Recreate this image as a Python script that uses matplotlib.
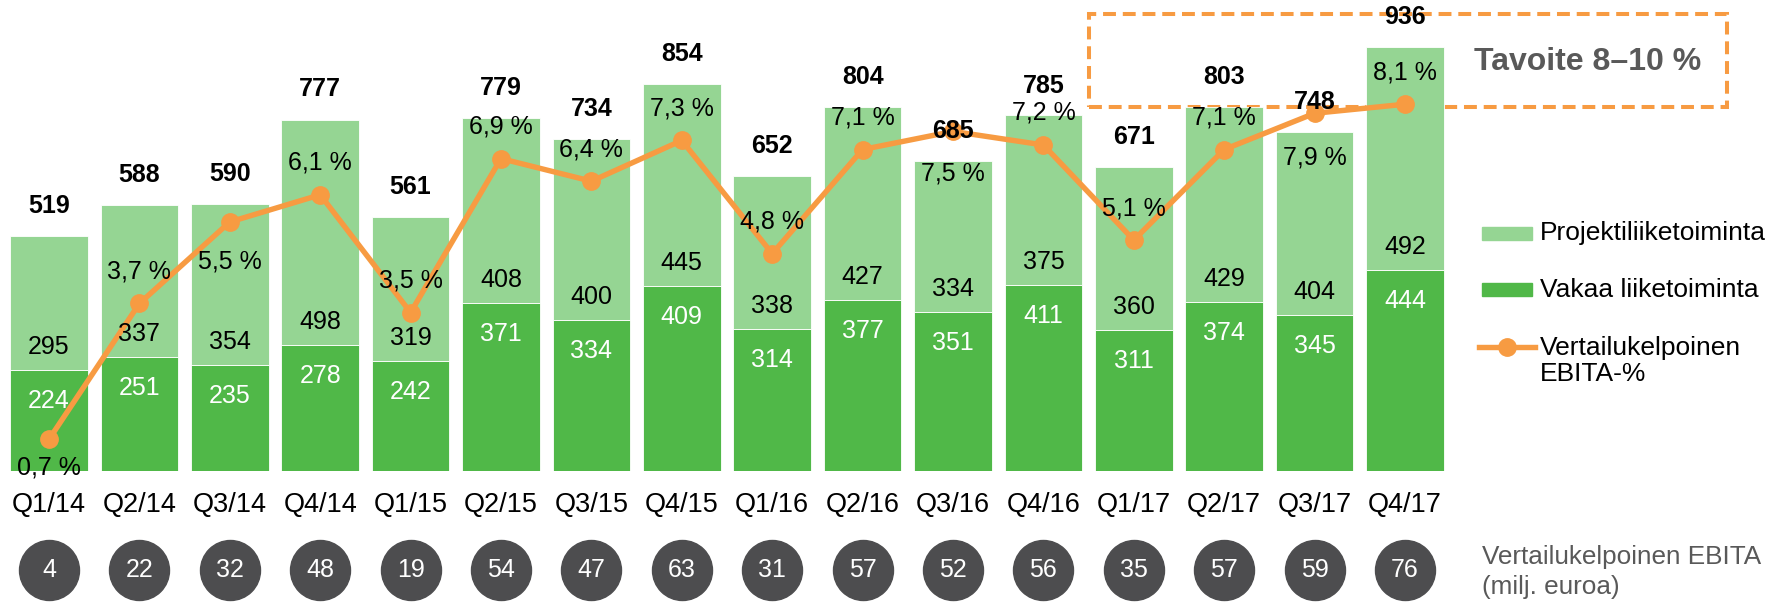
"""Quarterly order intake with comparable EBITA margin."""

import matplotlib

matplotlib.use("Agg")

import numpy as np
from matplotlib import pyplot as plt
from matplotlib import transforms
from matplotlib.lines import Line2D
from matplotlib.patches import Rectangle

quarters = [
    "Q1/14", "Q2/14", "Q3/14", "Q4/14", "Q1/15", "Q2/15", "Q3/15", "Q4/15",
    "Q1/16", "Q2/16", "Q3/16", "Q4/16", "Q1/17", "Q2/17", "Q3/17", "Q4/17",
]
vakaa = [224, 251, 235, 278, 242, 371, 334, 409, 314, 377, 351, 411, 311, 374, 345, 444]
projekti = [295, 337, 354, 498, 319, 408, 400, 445, 338, 427, 334, 375, 360, 429, 404, 492]
totals = [519, 588, 590, 777, 561, 779, 734, 854, 652, 804, 685, 785, 671, 803, 748, 936]
ebita_pct = [0.7, 3.7, 5.5, 6.1, 3.5, 6.9, 6.4, 7.3, 4.8, 7.1, 7.5, 7.2, 5.1, 7.1, 7.9, 8.1]
ebita_meur = [4, 22, 32, 48, 19, 54, 47, 63, 31, 57, 52, 56, 35, 57, 59, 76]

# label placement for the margin line (pixels, + above / - below the marker)
pct_label_offset = [-28, 32, -40, 32, 32, 32, 32, 32, 32, 32, -42, 32, 32, 32, -44, 32]

COLOR_LIGHT = "#95d593"
COLOR_DARK = "#50b848"
COLOR_ORANGE = "#f79b42"
COLOR_CIRCLE = "#4d4d4f"
COLOR_GRAY = "#595959"

W, H = 1781, 603
DPI = 100
PX = 72 / DPI  # points per pixel
FONT = 18

plt.rcParams.update({"font.family": ["Liberation Sans", "DejaVu Sans"], "font.size": FONT})

fig = plt.figure(figsize=(W / DPI, H / DPI), dpi=DPI)


def fx(px):
    return px / W


def fy(py):
    return 1 - py / H


# axes: bars sit on y = 471 px, 90.4 px apart, first centre at 49 px
ax = fig.add_axes([0, fy(471), fx(1460), 471 / H])
pitch = 90.4
ax.set_xlim(-49 / pitch, (1460 - 49) / pitch)
ax.set_ylim(0, 471 / 0.4528)
ax2 = ax.twinx()
ax2.set_ylim(0, ax.get_ylim()[1] / 100)

for a in (ax, ax2):
    for spine in a.spines.values():
        spine.set_visible(False)
    a.set_yticks([])
    a.patch.set_visible(False)

x = np.arange(len(quarters))
ax.bar(x, vakaa, width=0.86, color=COLOR_DARK, edgecolor="white", linewidth=0.6, zorder=2)
ax.bar(x, projekti, bottom=vakaa, width=0.86, color=COLOR_LIGHT, edgecolor="white",
       linewidth=0.6, zorder=2)
ax.set_xticks(x, quarters)
ax.tick_params(axis="x", length=0, pad=15, labelsize=19.5)

ax2.plot(x, ebita_pct, color=COLOR_ORANGE, linewidth=3.9, marker="o", markersize=12.5,
         solid_joinstyle="round", zorder=3)

for i in x:
    ax2.annotate(str(totals[i]), (i, totals[i]), xycoords=ax.transData,
                 xytext=(0, 30 * PX), textcoords="offset points",
                 ha="center", va="center", fontweight="bold", zorder=5)
    ax2.annotate(str(projekti[i]), (i, vakaa[i]), xycoords=ax.transData,
                 xytext=(0, 23 * PX), textcoords="offset points",
                 ha="center", va="center", color="black", zorder=5)
    ax2.annotate(str(vakaa[i]), (i, vakaa[i]), xycoords=ax.transData,
                 xytext=(0, -31 * PX), textcoords="offset points",
                 ha="center", va="center", color="white", zorder=5)
    ax2.annotate(f"{ebita_pct[i]:.1f} %".replace(".", ","), (i, ebita_pct[i]),
                 xytext=(0, pct_label_offset[i] * PX), textcoords="offset points",
                 ha="center", va="center", color="black", zorder=5)

# EBITA circles below the quarter labels
circle_tr = transforms.blended_transform_factory(ax.transData, fig.transFigure)
ax.plot(x, [fy(570)] * len(x), transform=circle_tr, linestyle="none", marker="o",
        markersize=60 * PX, color=COLOR_CIRCLE, clip_on=False)
for i in x:
    ax.text(i, fy(570), str(ebita_meur[i]), transform=circle_tr, ha="center", va="center",
            color="white", fontsize=FONT)
fig.text(fx(1482), fy(572), "Vertailukelpoinen EBITA\n(milj. euroa)", ha="left", va="center",
         color=COLOR_GRAY, fontsize=18.8, linespacing=1.3)

# target box, behind the bars
ax.add_patch(Rectangle((fx(1089), fy(107)), fx(1727) - fx(1089), fy(14) - fy(107),
                       transform=fig.transFigure, fill=False, edgecolor=COLOR_ORANGE,
                       linewidth=2.9, linestyle=(0, (3.2, 1.7)), clip_on=False, zorder=0.5))
fig.text(fx(1588), fy(62), "Tavoite 8\u201310 %", ha="center", va="center",
         color=COLOR_GRAY, fontsize=23, fontweight="bold")

# legend
LEGEND_FONT = 19
for py, color in [(233, COLOR_LIGHT), (290, COLOR_DARK)]:
    fig.patches.append(Rectangle((fx(1482), fy(py + 6.5)), fx(50), 13 / H,
                                 transform=fig.transFigure, color=color))
fig.lines.append(Line2D([fx(1479), fx(1535)], [fy(347), fy(347)], transform=fig.transFigure,
                        color=COLOR_ORANGE, linewidth=3.9))
fig.lines.append(Line2D([fx(1507)], [fy(347)], transform=fig.transFigure, marker="o",
                        markersize=12.5, color=COLOR_ORANGE))
fig.text(fx(1540), fy(233), "Projektiliiketoiminta", va="center", fontsize=LEGEND_FONT)
fig.text(fx(1540), fy(290), "Vakaa liiketoiminta", va="center", fontsize=LEGEND_FONT)
fig.text(fx(1540), fy(361), "Vertailukelpoinen\nEBITA-%", va="center", fontsize=LEGEND_FONT,
         linespacing=1.12)

fig.savefig("out.png", dpi=DPI)
